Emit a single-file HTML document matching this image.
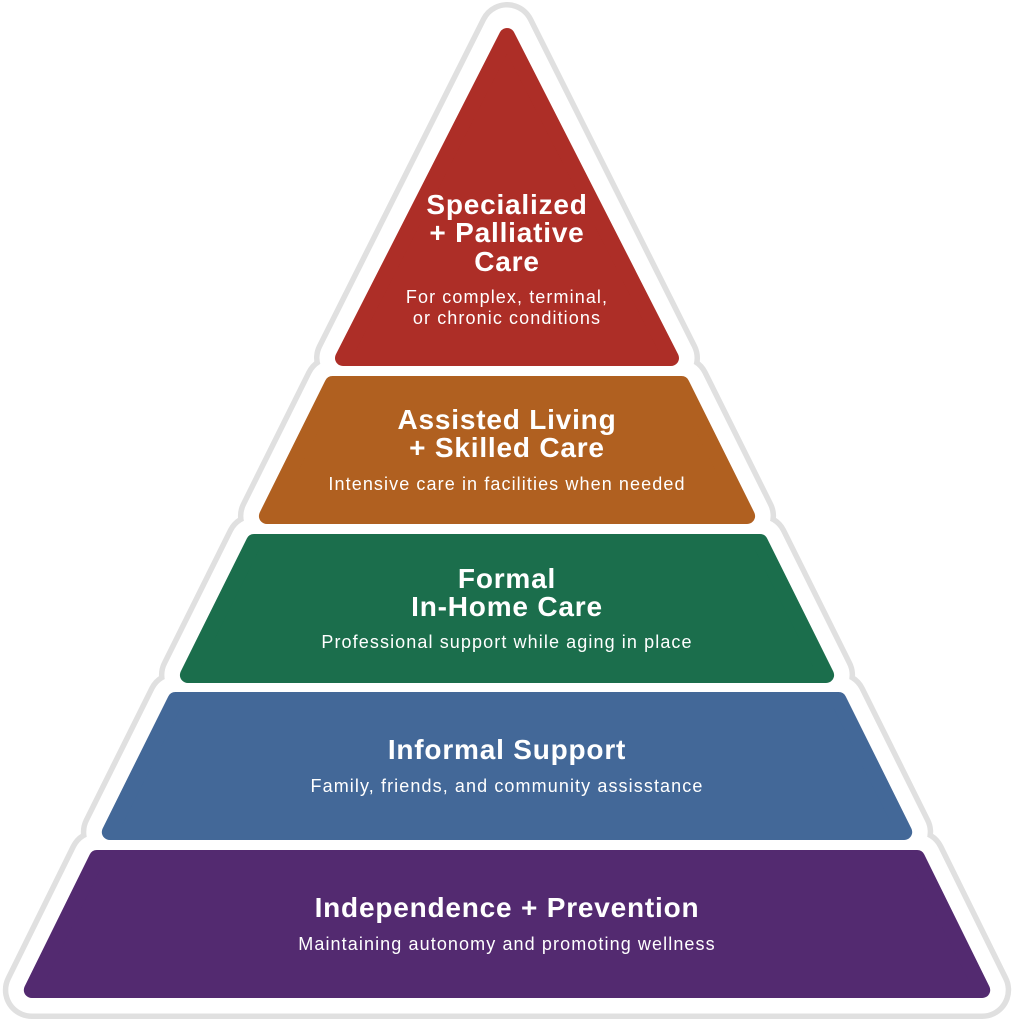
<!DOCTYPE html>
<html><head><meta charset="utf-8"><style>
html,body{margin:0;padding:0;background:#fff;}
svg{display:block;}
.t{font-family:"Liberation Sans",sans-serif;font-weight:bold;font-size:28px;letter-spacing:0.8px;fill:#fff;text-anchor:middle;}
.s{font-family:"Liberation Sans",sans-serif;font-size:18px;letter-spacing:1.1px;fill:#fff;text-anchor:middle;}
</style></head><body>
<svg width="1014" height="1024" viewBox="0 0 1014 1024" xmlns="http://www.w3.org/2000/svg">
<defs>
<g id="shapes">
<polygon points="507,31 343,358 671,358"/>
<polygon points="332.5,384 681.5,384 747.1,516 266.9,516"/>
<polygon points="254,542 760,542 826.1,675 187.9,675"/>
<polygon points="175.4,700 838.6,700 904.2,832 109.8,832"/>
<polygon points="96.9,858 917.1,858 982.2,990 31.8,990"/>
</g>
</defs>
<use href="#shapes" fill="#e0e0e0" stroke="#e0e0e0" stroke-width="58" stroke-linejoin="round"/>
<use href="#shapes" fill="#fff" stroke="#fff" stroke-width="47" stroke-linejoin="round"/>
<g stroke-width="16" stroke-linejoin="round">
<polygon points="507,36 343,358 671,358" fill="#ad2e27" stroke="#ad2e27"/>
<polygon points="332.5,384 681.5,384 747.1,516 266.9,516" fill="#b06020" stroke="#b06020"/>
<polygon points="254,542 760,542 826.1,675 187.9,675" fill="#1b6e4c" stroke="#1b6e4c"/>
<polygon points="175.4,700 838.6,700 904.2,832 109.8,832" fill="#436898" stroke="#436898"/>
<polygon points="96.9,858 917.1,858 982.2,990 31.8,990" fill="#532a70" stroke="#532a70"/>
</g>
<text class="t" x="507" y="214">Specialized</text>
<text class="t" x="507" y="242">+ Palliative</text>
<text class="t" x="507" y="271">Care</text>
<text class="s" x="507" y="303">For complex, terminal,</text>
<text class="s" x="507" y="324">or chronic conditions</text>
<text class="t" x="507" y="429">Assisted Living</text>
<text class="t" x="507" y="457">+ Skilled Care</text>
<text class="s" x="507" y="490">Intensive care in facilities when needed</text>
<text class="t" x="507" y="588">Formal</text>
<text class="t" x="507" y="616">In-Home Care</text>
<text class="s" x="507" y="648">Professional support while aging in place</text>
<text class="t" x="507" y="759">Informal Support</text>
<text class="s" x="507" y="792">Family, friends, and community assisstance</text>
<text class="t" x="507" y="917">Independence + Prevention</text>
<text class="s" x="507" y="950">Maintaining autonomy and promoting wellness</text>
</svg>
</body></html>
